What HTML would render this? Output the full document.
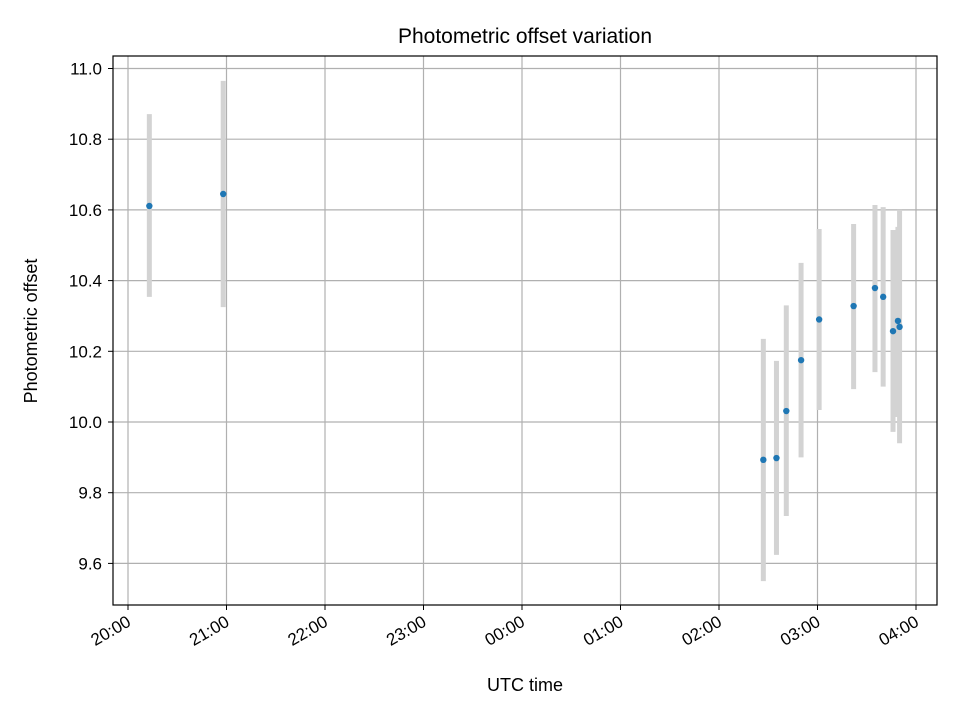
<!DOCTYPE html>
<html><head><meta charset="utf-8"><style>
body{margin:0;background:#fff;}
svg text{font-family:"Liberation Sans","DejaVu Sans",sans-serif;fill:#000;}
</style></head><body>
<svg id="chart" width="960" height="720">
<text x="525" y="43" font-size="21" text-anchor="middle">Photometric offset variation</text>
<text x="525" y="691" font-size="18" text-anchor="middle">UTC time</text>
<text transform="translate(37,331) rotate(-90)" font-size="18" text-anchor="middle">Photometric offset</text>
<g id="grid"></g><g id="marks"></g>
<rect x="113" y="56" width="824" height="549" fill="none" stroke="#000" stroke-width="1.2"/>
<g id="axes"></g>
</svg>
<script>
const times=["20:13","20:58","02:27","02:35","02:41","02:50","03:01","03:22","03:35","03:40","03:46","03:49","03:50"];
const offsets=[10.611,10.645,9.893,9.898,10.031,10.175,10.29,10.328,10.379,10.354,10.257,10.286,10.269];
const errLow=[10.354,10.325,9.55,9.624,9.734,9.90,10.034,10.093,10.141,10.10,9.972,10.014,9.94];
const errHigh=[10.871,10.965,10.235,10.173,10.33,10.45,10.546,10.56,10.614,10.608,10.543,10.552,10.60];
const yTicks=[9.6,9.8,10.0,10.2,10.4,10.6,10.8,11.0];
const xTicks=["20:00","21:00","22:00","23:00","00:00","01:00","02:00","03:00","04:00"];
const NS="http://www.w3.org/2000/svg";
function hrs(t){let [h,m]=t.split(":").map(Number);if(h<12)h+=24;return h-20+m/60;}
function X(t){return 128+hrs(t)*98.5;}
function Y(v){return 422-(v-10)*353.5;}
function mk(tag,a,p){const e=document.createElementNS(NS,tag);for(const k in a)e.setAttribute(k,a[k]);document.getElementById(p).appendChild(e);return e;}
yTicks.forEach(v=>{const y=Y(v);
 const g=mk("line",{x1:113,x2:937,y1:y,y2:y,stroke:"#b0b0b0","stroke-width":1.2},"grid");
 
 
 mk("line",{x1:108,x2:113,y1:y,y2:y,stroke:"#000"},"axes");
 const t=mk("text",{x:102,y:y+6,"font-size":17,"text-anchor":"end"},"axes");t.textContent=v.toFixed(1);
 
 
});
xTicks.forEach(s=>{const x=X(s);
 const g=mk("line",{x1:x,x2:x,y1:56,y2:605,stroke:"#b0b0b0","stroke-width":1.2},"grid");
 
 
 mk("line",{x1:x,x2:x,y1:605,y2:610,stroke:"#000"},"axes");
 const t=mk("text",{transform:`translate(${x+4},${625}) rotate(-30)`,"font-size":17,"text-anchor":"end"},"axes");t.textContent=s;
 
 
});
times.forEach((t,i)=>{const x=X(t);
 const e=mk("line",{x1:x,x2:x,y1:Y(errHigh[i]),y2:Y(errLow[i]),stroke:"#d3d3d3","stroke-width":5},"marks");
 
 
});
times.forEach((t,i)=>{
 const c=mk("circle",{cx:X(t),cy:Y(offsets[i]),r:3.2,fill:"#1f77b4"},"marks");
 
 
});
</script>
</body></html>
